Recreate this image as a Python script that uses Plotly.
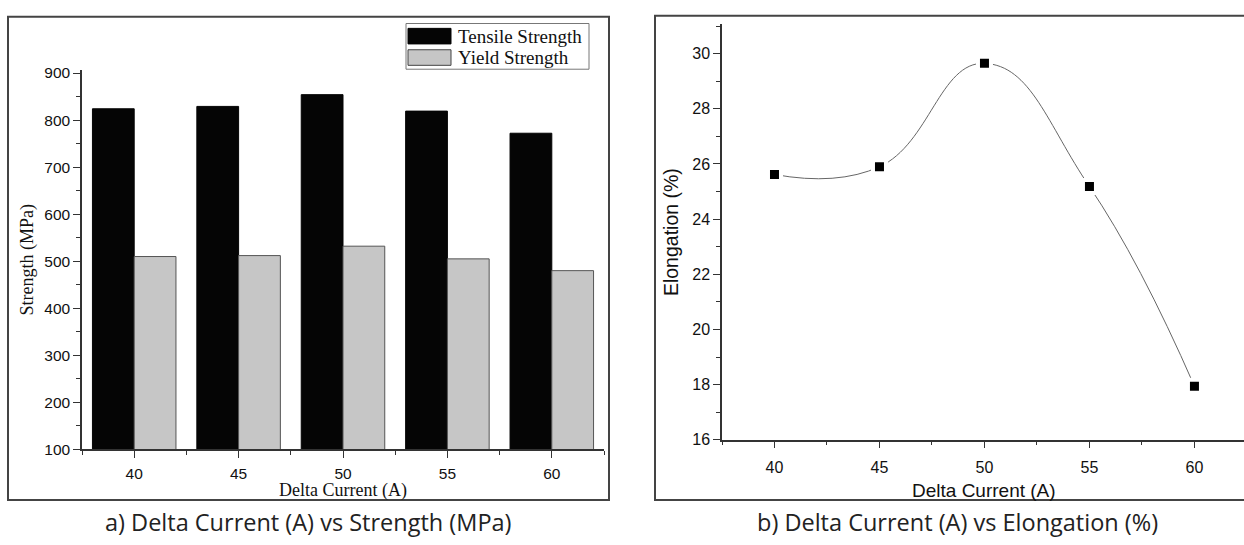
import plotly.graph_objects as go

# ---------------- data ----------------
current = [40, 45, 50, 55, 60]
tensile = [824, 829, 854, 819, 772]
yield_s = [510, 512, 532, 505, 480]
elong = [25.62, 25.9, 29.65, 25.18, 17.94]
series_names = ["Tensile Strength", "Yield Strength"]
x_title = "Delta Current (A)"
caption_a = "a) Delta Current (A) vs Strength (MPa)"
caption_b = "b) Delta Current (A) vs Elongation (%)"

W, H = 1244, 545
def px(x):
    return x / W
def py(y):
    return 1 - y / H

SERIF = "Liberation Serif, Times New Roman, serif"
SANS = "Liberation Sans, Arial, sans-serif"
AXC = "#333333"

fig = go.Figure()

# ---- left: bars ----
fig.add_trace(go.Bar(x=current, y=tensile, name=series_names[0], width=2, offset=-2,
                     marker=dict(color="#050505", line=dict(color="#050505", width=1)),
                     xaxis="x", yaxis="y", showlegend=False))
fig.add_trace(go.Bar(x=current, y=yield_s, name=series_names[1], width=2, offset=0,
                     marker=dict(color="#c6c6c6", line=dict(color="#555555", width=1)),
                     xaxis="x", yaxis="y", showlegend=False))

# ---- right: elongation ----
fig.add_trace(go.Scatter(x=current, y=elong, mode="lines", line=dict(color="#666666", width=1, shape="spline", smoothing=1.3),
                         xaxis="x2", yaxis="y2", showlegend=False, hoverinfo="skip"))
fig.add_trace(go.Scatter(x=current, y=elong, mode="markers", marker=dict(symbol="square", size=17, color="white"),
                         xaxis="x2", yaxis="y2", showlegend=False, hoverinfo="skip"))
fig.add_trace(go.Scatter(x=current, y=elong, mode="markers", marker=dict(symbol="square", size=9, color="black"),
                         xaxis="x2", yaxis="y2", showlegend=False, name="Elongation"))

def axis_common(fs):
    return dict(showgrid=False, zeroline=False, showline=True, linecolor=AXC, linewidth=1.5,
                ticks="outside", ticklen=7, tickwidth=1.3, tickcolor=AXC,
                tickfont=dict(family=SANS, size=fs, color="#111"))

fig.update_layout(
    width=W, height=H, margin=dict(l=0, r=0, t=0, b=0),
    paper_bgcolor="white", plot_bgcolor="white",
    barmode="overlay",
    xaxis=dict(**axis_common(15.5), domain=[px(82), px(604)], range=[37.5, 62.5],
               tickvals=current, anchor="y", ticklabelstandoff=2,
               minor=dict(ticks="outside", ticklen=4, tickwidth=1.3, tickcolor=AXC, dtick=2.5, tick0=37.5)),
    yaxis=dict(**axis_common(15.5), domain=[py(456), py(66)], range=[100, 906],
               tickvals=[100, 200, 300, 400, 500, 600, 700, 800, 900], anchor="x",
               minor=dict(ticks="outside", ticklen=4, tickwidth=1.3, tickcolor=AXC, dtick=50, tick0=100),
               title=dict(text="Strength (MPa)", font=dict(family=SERIF, size=18, color="#111"), standoff=6)),
    xaxis2=dict(**axis_common(16), domain=[px(722), 1.0], range=[37.5, 62.36],
                tickvals=current, anchor="y2", ticklabelstandoff=5,
                minor=dict(ticks="outside", ticklen=4, tickwidth=1.3, tickcolor=AXC, dtick=2.5, tick0=37.5)),
    yaxis2=dict(**axis_common(16), domain=[py(446), py(19)], range=[16, 31.06],
                tickvals=[16, 18, 20, 22, 24, 26, 28, 30], anchor="x2",
                minor=dict(ticks="outside", ticklen=4, tickwidth=1.3, tickcolor=AXC, dtick=1, tick0=16),
                title=dict(text="Elongation (%)", font=dict(family=SANS, size=19.5, color="#111"), standoff=8)),
)

shapes = []
# panel borders
shapes.append(dict(type="rect", xref="paper", yref="paper", x0=px(8), x1=px(609), y0=py(508), y1=py(11),
                   line=dict(color="#444", width=2)))
shapes.append(dict(type="rect", xref="paper", yref="paper", x0=px(655), x1=px(1260), y0=py(508), y1=py(10),
                   line=dict(color="#444", width=2)))
# legend box
shapes.append(dict(type="rect", xref="paper", yref="paper", x0=px(406), x1=px(589), y0=py(65), y1=py(18),
                   line=dict(color="#777", width=1), fillcolor="white"))
shapes.append(dict(type="rect", xref="paper", yref="paper", x0=px(408), x1=px(451), y0=py(39), y1=py(23),
                   line=dict(color="#050505", width=1), fillcolor="#050505"))
shapes.append(dict(type="rect", xref="paper", yref="paper", x0=px(408), x1=px(451), y0=py(61), y1=py(45),
                   line=dict(color="#444", width=1), fillcolor="#c6c6c6"))
fig.update_layout(shapes=shapes)

ann = []
ann.append(dict(xref="paper", yref="paper", x=px(456), y=py(31), text=series_names[0], showarrow=False,
                xanchor="left", yanchor="middle", font=dict(family=SERIF, size=19, color="#111")))
ann.append(dict(xref="paper", yref="paper", x=px(456), y=py(53), text=series_names[1], showarrow=False,
                xanchor="left", yanchor="middle", font=dict(family=SERIF, size=19, color="#111")))
# x-axis titles
ann.append(dict(xref="paper", yref="paper", x=px(343), y=py(498), text=x_title, showarrow=False,
                xanchor="center", yanchor="middle", font=dict(family=SERIF, size=18, color="#111")))
ann.append(dict(xref="paper", yref="paper", x=px(984), y=py(498), text=x_title, showarrow=False,
                xanchor="center", yanchor="middle", font=dict(family=SANS, size=19, color="#111")))
# captions
ann.append(dict(xref="paper", yref="paper", x=px(308), y=py(531), text=caption_a, showarrow=False,
                xanchor="center", yanchor="middle", font=dict(family="Open Sans", size=23.5, color="#222")))
ann.append(dict(xref="paper", yref="paper", x=px(957), y=py(531), text=caption_b, showarrow=False,
                xanchor="center", yanchor="middle", font=dict(family="Open Sans", size=23.5, color="#222")))
fig.update_layout(annotations=ann)

fig.write_html("out.html")
